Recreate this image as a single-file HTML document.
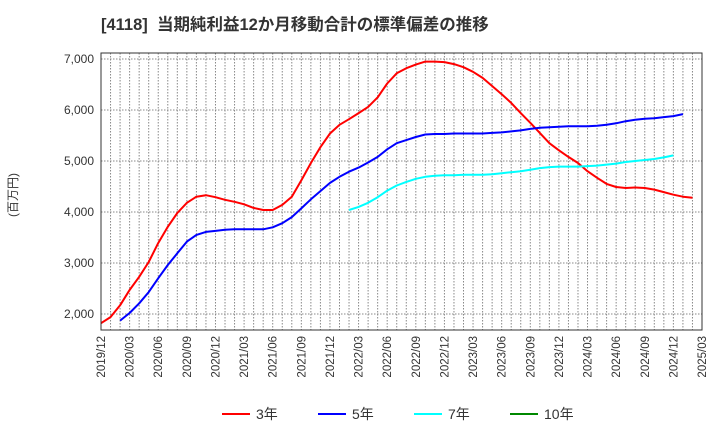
<!DOCTYPE html>
<html><head><meta charset="utf-8"><style>
body{margin:0;background:#fff;}
svg{display:block;font-family:"Liberation Sans","Noto Sans CJK JP",sans-serif;}
</style></head><body>
<svg id="chart" width="720" height="440" viewBox="0 0 720 440">
<text x="101" y="30" font-size="16.5" font-weight="bold" fill="#333" style="white-space:pre">[4118]&#160;&#160;当期純利益12か月移動合計の標準偏差の推移</text>
<text transform="translate(17,195) rotate(-90)" text-anchor="middle" font-size="12" fill="#333">(百万円)</text>
<g id="grid"></g><g id="series"></g><g id="axes"></g>
<g font-size="14" fill="#333">
<line x1="222" y1="414" x2="250" y2="414" stroke="#f00" stroke-width="2"/><text x="256" y="419">3年</text>
<line x1="318" y1="414" x2="346" y2="414" stroke="#00f" stroke-width="2"/><text x="352" y="419">5年</text>
<line x1="414" y1="414" x2="442" y2="414" stroke="#0ff" stroke-width="2"/><text x="448" y="419">7年</text>
<line x1="510" y1="414" x2="538" y2="414" stroke="#080" stroke-width="2"/><text x="544" y="419">10年</text>
</g>
</svg>
<script>
const xTickLabels=["2019/12","2020/03","2020/06","2020/09","2020/12","2021/03","2021/06","2021/09","2021/12","2022/03","2022/06","2022/09","2022/12","2023/03","2023/06","2023/09","2023/12","2024/03","2024/06","2024/09","2024/12","2025/03"];
const yTicks=[2000,3000,4000,5000,6000,7000];
const s3Start=0;
const s3=[1820,1940,2170,2470,2730,3020,3390,3710,3980,4180,4300,4330,4290,4240,4200,4150,4080,4040,4040,4140,4300,4620,4960,5270,5540,5710,5820,5940,6060,6250,6520,6720,6820,6890,6950,6950,6940,6900,6840,6750,6630,6470,6310,6140,5940,5750,5550,5350,5210,5080,4960,4800,4670,4550,4490,4470,4480,4470,4440,4390,4340,4300,4280];
const s5Start=2;
const s5=[1870,2020,2210,2430,2700,2960,3190,3420,3550,3610,3630,3650,3660,3660,3660,3660,3700,3780,3900,4070,4250,4410,4570,4690,4790,4870,4970,5080,5230,5350,5410,5470,5520,5530,5530,5540,5540,5540,5540,5550,5560,5580,5600,5630,5650,5660,5670,5680,5680,5680,5690,5710,5740,5780,5810,5830,5840,5860,5880,5920];
const s7Start=26;
const s7=[4040,4100,4180,4290,4420,4520,4590,4650,4690,4710,4720,4720,4730,4730,4730,4740,4760,4780,4800,4830,4860,4880,4890,4890,4890,4900,4910,4930,4950,4980,5000,5020,5040,5070,5110];
const L=101,R=702,T=53,B=330,nMonths=63;
const xs=i=>L+(R-L)*i/nMonths;
const ys=v=>314-(v-2000)*51/1000;
const NS="http://www.w3.org/2000/svg";
function mk(tag,attrs,parent){const e=document.createElementNS(NS,tag);for(const k in attrs)e.setAttribute(k,attrs[k]);parent.appendChild(e);return e;}
const grid=document.getElementById('grid'),axes=document.getElementById('axes'),series=document.getElementById('series');
for(let i=1;i<nMonths;i++){const g=mk('line',{x1:xs(i),x2:xs(i),y1:T,y2:B,stroke:'#888','stroke-width':1,'stroke-dasharray':'1.5,1.5'},grid);

}
yTicks.forEach(v=>{const g=mk('line',{x1:L,x2:R,y1:ys(v),y2:ys(v),stroke:'#888','stroke-width':1,'stroke-dasharray':'1.5,1.5'},grid);


const t=mk('text',{x:94,y:ys(v)+4,'text-anchor':'end','font-size':12,fill:'#333'},axes);t.textContent=v.toLocaleString('en-US');

});
xTickLabels.forEach((lab,i)=>{const x=xs(i*3);const t=mk('text',{transform:`translate(${x+4},336) rotate(-90)`,'text-anchor':'end','font-size':11.5,fill:'#333'},axes);t.textContent=lab;

});
const frame=mk('rect',{x:L,y:T,width:R-L,height:B-T,fill:'none',stroke:'#333','stroke-width':1},axes);


function line(arr,start,color,name){const p=mk('polyline',{points:arr.map((v,i)=>xs(start+i).toFixed(1)+','+ys(v).toFixed(1)).join(' '),fill:'none',stroke:color,'stroke-width':2,'stroke-linejoin':'round'},series);

}
line(s3,s3Start,'#f00','series-3y');
line(s5,s5Start,'#00f','series-5y');
line(s7,s7Start,'#0ff','series-7y');
</script>
</body></html>
